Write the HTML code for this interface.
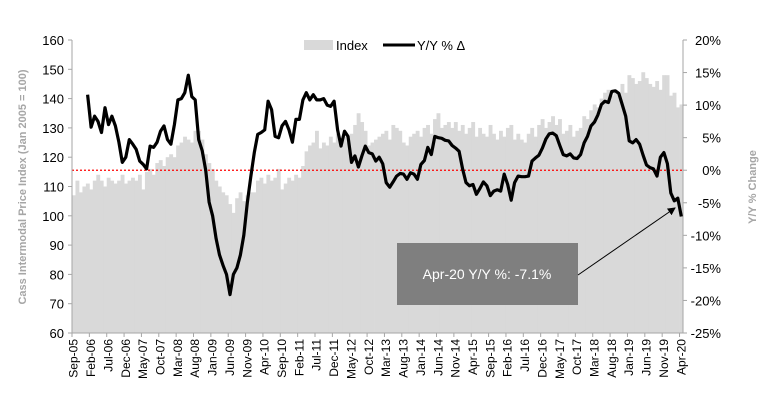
<!DOCTYPE html>
<html><head><meta charset="utf-8"><style>
body{margin:0;background:#fff;font-family:"Liberation Sans",sans-serif}
svg text{font-family:"Liberation Sans",sans-serif}
</style></head><body>
<svg id="c" width="764" height="405" xmlns="http://www.w3.org/2000/svg"></svg>
<script>
const monthNames=["Jan","Feb","Mar","Apr","May","Jun","Jul","Aug","Sep","Oct","Nov","Dec"];
const indexValues=[107,112,108,110,
111,109,112,114,112,110,113,112,111,112,114,111,
112,113,112,114,109,115,116,114,118,119,117,120,
121,120,124,125,127,126,125,129,129,126,121,118,
116,112,110,108,107,104,101,106,108,105,107,108,
108,112,113,111,114,112,113,116,109,111,113,112,
114,113,117,122,124,125,129,123,125,124,127,125,
128,124,127,125,128,131,135,132,129,124,125,126,
127,128,129,126,131,130,129,125,124,127,128,129,
127,130,131,128,133,135,130,131,132,130,132,129,
131,128,130,132,127,130,128,127,131,128,126,129,
127,130,131,126,128,126,125,128,130,127,131,133,
130,132,134,131,133,128,129,131,127,129,130,134,
133,136,138,137,140,142,143,141,142,141,145,142,
148,147,145,146,149,147,145,144,146,143,148,148,
141,142,137,138];
const yoyStart=4;
const yoyValues=[11.6,6.6,8.3,7.5,5.8,9.6,7,8.3,6.8,4.3,1.2,2,4.7,4,3.2,1.4,0.9,0.2,3.7,3.5,4.3,6,6.8,4.7,4,7,10.8,11,11.9,14.6,11.3,10.8,4.7,3,0,-4.9,-7,-10.5,-13,-14.6,-16,-19.1,-16,-15,-13,-10,-5,-1,2.7,5.5,5.8,6.2,10.6,9.3,5.2,5,6.8,7.5,6.2,4.3,7.8,7.8,10.8,11.9,10.8,11.6,10.8,10.8,11,10,9.8,10.6,6.2,3.7,6,5.2,1.2,2.2,0.5,2.2,3.7,2.7,
2.5,1.4,2.0,1.0,-1.9,-2.6,-1.8,-0.9,-0.5,-0.6,-1.4,-0.4,-0.6,-1.4,0.9,1.5,3.5,2.4,5.2,5.0,4.9,4.6,4.5,3.8,3.4,2.9,0.2,-1.9,-2.4,-2.2,-3.7,-2.8,-1.8,-2.4,-3.9,-3.2,-3.0,-3.2,-0.6,-2.2,-4.6,-1.9,-0.9,-1.0,-1.0,-0.9,1.4,1.9,2.3,3.4,4.8,5.6,5.7,5.3,3.8,2.4,2.2,2.5,1.9,1.8,2.4,4.2,5.2,6.8,7.4,8.5,10.1,10.6,10.4,12.1,12.2,11.8,10.1,8.3,4.5,4.2,4.7,4.0,2.3,0.8,0.4,0.2,-0.9,2.0,2.7,1.0,-3.5,-4.7,-4.3,-7.1];
const leftTicks=[60,70,80,90,100,110,120,130,140,150,160];
const rightTicks=[20,15,10,5,0,-5,-10,-15,-20,-25];
const categories=indexValues.map((v,i)=>{const m=(8+i)%12,y=5+Math.floor((8+i)/12);return monthNames[m]+"-"+String(y).padStart(2,"0");});

const X0=72,X1=683,Y0=40,Y1=333;
const band=(X1-X0)/indexValues.length;
const xc=i=>X0+(i+0.5)*band;
const yL=v=>Y1-(v-60)/100*(Y1-Y0);
const yR=p=>Y0+(20-p)/45*(Y1-Y0);
const svg=document.getElementById('c');const NS="http://www.w3.org/2000/svg";
function mk(t,a,p){const e=document.createElementNS(NS,t);for(const k in a)e.setAttribute(k,a[k]);(p||svg).appendChild(e);return e;}

const bars=mk('g',{});


indexValues.forEach((v,i)=>{const r=mk('rect',{x:X0+i*band,y:yL(v),width:band+0.4,height:Y1-yL(v),fill:'#d9d9d9'},bars);

});

const zl=mk('line',{x1:X0,x2:X1,y1:yR(0),y2:yR(0),stroke:'#ff0000','stroke-width':1.3,'stroke-dasharray':'2,2'});



const axes=mk('g',{stroke:'#a6a6a6','stroke-width':1});


mk('line',{x1:X0,x2:X0,y1:Y0,y2:Y1},axes);
mk('line',{x1:X1,x2:X1,y1:Y0,y2:Y1},axes);
mk('line',{x1:X0,x2:X1,y1:Y1,y2:Y1},axes);
leftTicks.forEach(v=>{mk('line',{x1:X0-4,x2:X0,y1:yL(v),y2:yL(v)},axes);
const t=mk('text',{x:X0-8,y:yL(v)+5,'text-anchor':'end','font-size':13,fill:'#000',stroke:'none'});t.textContent=v;

});
rightTicks.forEach(p=>{mk('line',{x1:X1,x2:X1+4,y1:yR(p),y2:yR(p)},axes);
const t=mk('text',{x:X1+38,y:yR(p)+5,'text-anchor':'end','font-size':13,fill:'#000',stroke:'none'});t.textContent=p+'%';

});
categories.forEach((c,i)=>{if(i%5)return;const x=X0+i*band;mk('line',{x1:x,x2:x,y1:Y1,y2:Y1+4},axes);
const t=mk('text',{transform:`translate(${xc(i)+4},${Y1+6}) rotate(-90)`,'text-anchor':'end','font-size':12,fill:'#000',stroke:'none'});t.textContent=c;

});

const pts=yoyValues.map((p,k)=>xc(yoyStart+k).toFixed(1)+','+yR(p).toFixed(1)).join(' ');
const line=mk('polyline',{points:pts,fill:'none',stroke:'#000','stroke-width':3.2,'stroke-linejoin':'round'});



const ly=mk('text',{transform:'translate(26,187) rotate(-90)','text-anchor':'middle','font-size':11,'font-weight':'bold',fill:'#a6a6a6'});
ly.textContent='Cass Intermodal Price Index (Jan 2005 = 100)';


const ry=mk('text',{transform:'translate(756,187) rotate(-90)','text-anchor':'middle','font-size':11,'font-weight':'bold',fill:'#a6a6a6'});
ry.textContent='Y/Y % Change';



const lg=mk('g',{});


mk('rect',{x:304,y:40,width:29,height:10,fill:'#d9d9d9'},lg);
const t1=mk('text',{x:336,y:50,'font-size':13},lg);t1.textContent='Index';
mk('line',{x1:383,x2:415,y1:45,y2:45,stroke:'#000','stroke-width':3},lg);
const t2=mk('text',{x:417,y:50,'font-size':13},lg);t2.textContent='Y/Y % Δ';

const an=mk('g',{});


mk('defs',{},an).innerHTML='<marker id="ah" markerWidth="8" markerHeight="8" refX="7" refY="4" orient="auto"><path d="M0,0 L8,4 L0,8 z" fill="#000"/></marker>';
mk('rect',{x:397,y:243,width:181,height:62,fill:'#7f7f7f'},an);
const at=mk('text',{x:487,y:279,'text-anchor':'middle','font-size':14,fill:'#fff'},an);at.textContent='Apr-20 Y/Y %: -7.1%';
mk('line',{x1:578,y1:275,x2:675,y2:208,stroke:'#000','stroke-width':1,'marker-end':'url(#ah)'},an);
</script>
</body></html>
